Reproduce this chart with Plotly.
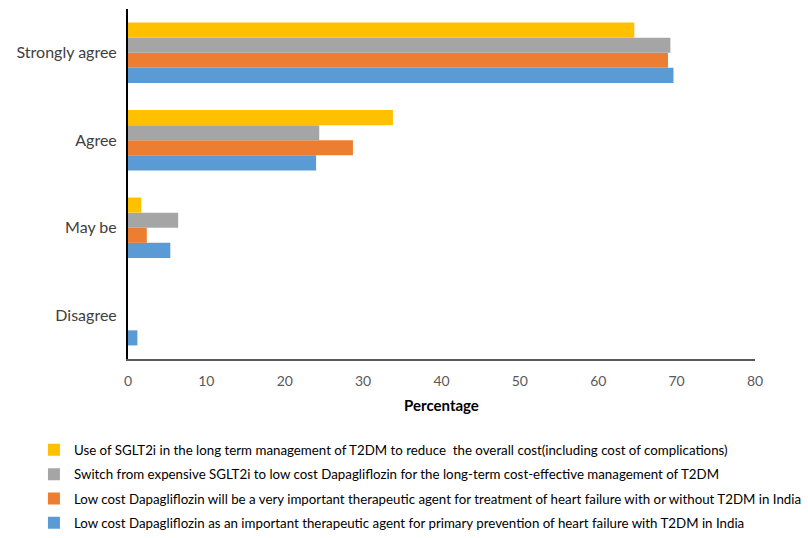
import plotly.graph_objects as go

categories = ["Disagree", "May be", "Agree", "Strongly agree"]

series_names = [
    "Low cost Dapagliflozin as an important therapeutic agent for primary prevention of heart failure with T2DM in India",
    "Low cost Dapagliflozin will be a very important therapeutic agent for treatment of heart failure with or without T2DM in India",
    "Switch from expensive SGLT2i to low cost Dapagliflozin for the long-term cost-effective management of T2DM",
    "Use of SGLT2i in the long term management of T2DM to reduce  the overall cost(including cost of complications)",
]
blue_vals = [1.2, 5.4, 24.0, 69.6]
orange_vals = [0, 2.4, 28.7, 68.9]
gray_vals = [0, 6.4, 24.4, 69.2]
yellow_vals = [0, 1.7, 33.8, 64.6]
colors = ["#5B9BD5", "#ED7D31", "#A5A5A5", "#FFC000"]
legend_ranks = [4, 3, 2, 1]

FONT = "Lato, Roboto, sans-serif"

fig = go.Figure()
for i, (name, vals, col) in enumerate(zip(series_names, [blue_vals, orange_vals, gray_vals, yellow_vals], colors)):
    fig.add_trace(go.Bar(
        y=categories, x=vals, name=name, orientation="h",
        marker=dict(color=col, line=dict(width=0)),
        legendgroup=f"g{i}", legendrank=legend_ranks[i],
    ))

fig.update_layout(
    width=808, height=538,
    barmode="group", bargap=0.31, bargroupgap=0,
    plot_bgcolor="white", paper_bgcolor="white",
    margin=dict(l=128, r=53, t=9, b=179),
    font=dict(family=FONT, color="#404040"),
    xaxis=dict(
        range=[0, 80], dtick=10, showgrid=False, zeroline=False,
        showline=True, linecolor="#595959", linewidth=2,
        ticks="", tickfont=dict(size=14, color="#595959"), ticklabelstandoff=8,
        title=dict(text="<b>Percentage</b>", font=dict(size=15, color="#000000"), standoff=13),
    ),
    yaxis=dict(
        showgrid=False, zeroline=False, showline=True, linecolor="#000000", linewidth=2,
        ticks="", tickfont=dict(size=16, color="#404040"), ticklabelstandoff=6,
    ),
    legend=dict(
        xref="paper", yref="container",
        x=-0.15, xanchor="left", y=0.192, yanchor="top",
        traceorder="grouped", tracegroupgap=4,
        font=dict(size=13.3, color="#000000"),
        itemwidth=30,
    ),
)

fig.write_html("out.html")
